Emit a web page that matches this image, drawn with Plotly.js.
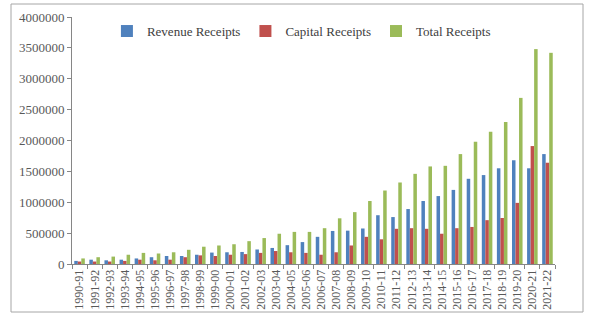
<!DOCTYPE html>
<html>
<head>
<meta charset="utf-8">
<script src="https://cdn.plot.ly/plotly-3.0.1.min.js"></script>
<style>
  html, body { margin: 0; padding: 0; background: #fff; }
  #chart { width: 590px; height: 319px; }
</style>
</head>
<body>
<div id="chart"></div>
<script>
const years = ["1990-91","1991-92","1992-93","1993-94","1994-95","1995-96","1996-97","1997-98","1998-99","1999-00",
  "2000-01","2001-02","2002-03","2003-04","2004-05","2005-06","2006-07","2007-08","2008-09","2009-10",
  "2010-11","2011-12","2012-13","2013-14","2014-15","2015-16","2016-17","2017-18","2018-19","2019-20",
  "2020-21","2021-22"];

const revenueReceipts = [50000, 70000, 60000, 70000, 90000, 110000, 130000, 130000, 150000, 185000,
  190000, 195000, 235000, 260000, 305000, 355000, 440000, 535000, 540000, 575000,
  790000, 760000, 890000, 1020000, 1100000, 1200000, 1380000, 1440000, 1550000, 1680000,
  1550000, 1780000];

const capitalReceipts = [40000, 40000, 40000, 50000, 70000, 60000, 70000, 110000, 140000, 130000,
  150000, 160000, 180000, 210000, 190000, 180000, 150000, 190000, 300000, 440000,
  400000, 570000, 580000, 570000, 490000, 580000, 600000, 710000, 745000, 990000,
  1910000, 1640000];

const totalReceipts = [90000, 110000, 120000, 150000, 180000, 170000, 190000, 230000, 280000, 300000,
  320000, 370000, 420000, 490000, 520000, 520000, 580000, 740000, 840000, 1020000,
  1190000, 1320000, 1460000, 1580000, 1590000, 1780000, 1980000, 2140000, 2300000, 2690000,
  3480000, 3420000];

const seriesNames = ["Revenue Receipts", "Capital Receipts", "Total Receipts"];
const seriesColors = ["#4F81BD", "#C0504D", "#9BBB59"];
const yTicks = [0, 500000, 1000000, 1500000, 2000000, 2500000, 3000000, 3500000, 4000000];

const serif = "'Liberation Serif', 'Times New Roman', serif";
const allValues = [revenueReceipts, capitalReceipts, totalReceipts];

const traces = allValues.map((vals, i) => ({
  type: "bar",
  name: seriesNames[i],
  x: years,
  y: vals,
  marker: { color: seriesColors[i] },
  hoverinfo: "x+y+name"
}));

const layout = {
  width: 590,
  height: 319,
  margin: { l: 72, r: 35, t: 17, b: 55, pad: 0 },
  paper_bgcolor: "#ffffff",
  plot_bgcolor: "#ffffff",
  barmode: "group",
  bargap: 0.3,
  bargroupgap: 0,
  font: { family: serif, size: 12, color: "#595959" },
  showlegend: true,
  legend: {
    orientation: "h",
    x: 0.475, xanchor: "center",
    y: 0.943, yanchor: "middle",
    bgcolor: "rgba(0,0,0,0)",
    font: { family: serif, size: 13, color: "#404040" },
    itemwidth: 30,
    traceorder: "normal"
  },
  xaxis: {
    type: "category",
    showline: true,
    linecolor: "#868686",
    linewidth: 1,
    ticks: "outside",
    tickson: "boundaries",
    ticklen: 4,
    tickcolor: "#868686",
    tickangle: -90,
    tickfont: { family: serif, size: 12, color: "#595959" },
    showgrid: false,
    zeroline: false,
    automargin: false
  },
  yaxis: {
    range: [0, 4000000],
    tickvals: yTicks,
    ticktext: yTicks.map(v => String(v)),
    showline: true,
    linecolor: "#868686",
    linewidth: 1,
    ticks: "outside",
    ticklen: 4,
    tickcolor: "#868686",
    tickfont: { family: serif, size: 13, color: "#595959" },
    showgrid: false,
    zeroline: false,
    automargin: false
  },
  shapes: [{
    type: "rect",
    xref: "paper", yref: "paper",
    x0: (11 - 72) / 483, x1: (583 - 72) / 483,
    y0: (264 - 312) / 247, y1: (264 - 4) / 247,
    line: { color: "#a6a6a6", width: 1 },
    fillcolor: "rgba(0,0,0,0)",
    layer: "below"
  }]
};

Plotly.newPlot("chart", traces, layout, { displayModeBar: false, staticPlot: true });
</script>
</body>
</html>
